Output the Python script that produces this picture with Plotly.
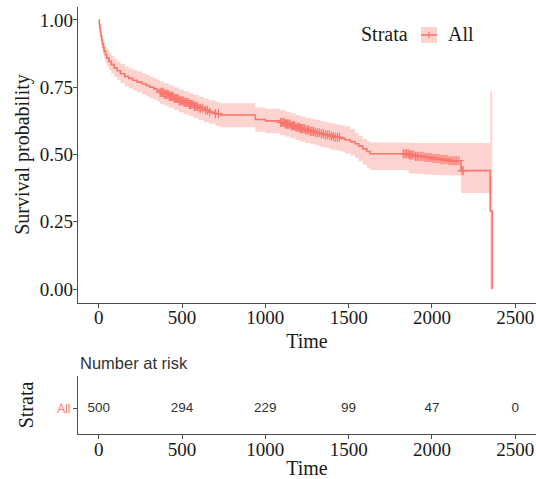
import numpy as np
import plotly.graph_objects as go

# ---------------- data ----------------
time = [0, 3, 6, 9, 13, 17, 21, 26, 32, 40, 48, 60, 75, 92, 110, 130, 156, 180, 204,
        230, 260, 285, 306, 330, 350, 367, 390, 420, 450, 480, 510, 540, 570, 600,
        630, 660, 700, 727, 940, 1000, 1088, 1120, 1150, 1180, 1210, 1240, 1270,
        1300, 1330, 1360, 1390, 1420, 1448, 1478, 1510, 1538, 1560, 1585, 1610,
        1629, 1860, 1900, 1950, 2000, 2050, 2100, 2175, 2350, 2362]
surv = [1.000, 0.985, 0.970, 0.955, 0.940, 0.926, 0.912, 0.898, 0.884, 0.870, 0.858,
        0.846, 0.834, 0.822, 0.811, 0.800, 0.790, 0.783, 0.776, 0.769, 0.762, 0.756,
        0.750, 0.744, 0.738, 0.731, 0.724, 0.716, 0.708, 0.700, 0.693, 0.686, 0.679,
        0.672, 0.665, 0.658, 0.652, 0.647, 0.630, 0.625, 0.619, 0.613, 0.607, 0.601,
        0.596, 0.591, 0.586, 0.581, 0.577, 0.573, 0.568, 0.564, 0.560, 0.555, 0.548,
        0.540, 0.531, 0.521, 0.511, 0.503, 0.498, 0.493, 0.489, 0.485, 0.481, 0.477,
        0.440, 0.290, 0.000]
upper = [1.000, 0.995, 0.985, 0.974, 0.962, 0.950, 0.938, 0.926, 0.913, 0.900, 0.889,
         0.878, 0.867, 0.856, 0.846, 0.836, 0.827, 0.820, 0.814, 0.808, 0.801, 0.795,
         0.790, 0.784, 0.778, 0.772, 0.765, 0.757, 0.750, 0.742, 0.735, 0.728, 0.721,
         0.715, 0.708, 0.702, 0.696, 0.690, 0.675, 0.670, 0.665, 0.659, 0.653, 0.647,
         0.642, 0.637, 0.632, 0.628, 0.624, 0.620, 0.616, 0.612, 0.609, 0.605, 0.595,
         0.580, 0.570, 0.558, 0.549, 0.545, 0.543, 0.543, 0.543, 0.543, 0.543, 0.543,
         0.543, 0.735, 0.735]
lower = [1.000, 0.975, 0.955, 0.937, 0.919, 0.902, 0.886, 0.870, 0.855, 0.840, 0.827,
         0.814, 0.801, 0.789, 0.777, 0.765, 0.754, 0.746, 0.738, 0.730, 0.722, 0.716,
         0.709, 0.703, 0.697, 0.689, 0.682, 0.674, 0.665, 0.657, 0.650, 0.643, 0.636,
         0.628, 0.621, 0.614, 0.607, 0.601, 0.585, 0.579, 0.572, 0.566, 0.560, 0.554,
         0.548, 0.543, 0.538, 0.533, 0.528, 0.524, 0.519, 0.515, 0.511, 0.505, 0.497,
         0.487, 0.476, 0.462, 0.450, 0.442, 0.430, 0.428, 0.426, 0.424, 0.423, 0.422,
         0.357, 0.000, 0.000]
censor_times = [368, 374, 380, 386, 392, 398, 404, 410, 416, 422, 428, 434, 440, 446,
                452, 458, 464, 470, 476, 482, 488, 494, 500, 506, 512, 518, 524, 530,
                537, 544, 551, 558, 566, 574, 582, 592, 602, 612, 625, 640, 652, 665,
                700, 718,
                1092, 1099, 1106, 1113, 1120, 1127, 1134, 1141, 1148, 1155, 1162, 1169,
                1176, 1183, 1190, 1197, 1204, 1211, 1218, 1226, 1234, 1243, 1252, 1261,
                1270, 1280, 1290, 1300, 1312, 1324, 1336, 1348, 1360, 1372, 1384, 1396,
                1408, 1420, 1432, 1444,
                1828, 1838, 1848, 1858, 1866, 1874, 1882, 1892, 1902, 1912, 1922, 1934,
                1946, 1958, 1970, 1982, 1994, 2006, 2018, 2030, 2042, 2054, 2066, 2078,
                2090, 2102, 2114, 2126, 2138, 2150, 2162, 2180, 2188]
strata = ["All"]
risk_times = [0, 500, 1000, 1500, 2000, 2500]
n_risk = [500, 294, 229, 99, 47, 0]
x_ticks = [0, 500, 1000, 1500, 2000, 2500]
y_ticks = [0.00, 0.25, 0.50, 0.75, 1.00]

# ---------------- styling ----------------
RED = "#F8766D"
FILL = "rgba(248,118,109,0.32)"
SERIF = "Liberation Serif, Times New Roman, serif"
SANS = "Liberation Sans, Arial, sans-serif"
AXC = "#4d4d4d"
TXT = "#1a1a1a"

W, H = 536.0, 479.0
def px(x):
    return x / W
def py(y):
    return (H - y) / H

idx = np.searchsorted(np.array(time), np.array(censor_times), side="right") - 1
censor_y = np.array(surv)[idx]

fig = go.Figure()
fig.add_trace(go.Scatter(x=time, y=lower, mode="lines", line=dict(width=0, shape="hv"),
                         showlegend=False, hoverinfo="skip"))
fig.add_trace(go.Scatter(x=time, y=upper, mode="lines", line=dict(width=0, shape="hv"),
                         fill="tonexty", fillcolor=FILL, showlegend=False, hoverinfo="skip"))
fig.add_trace(go.Scatter(x=time, y=surv, mode="lines", name=strata[0], showlegend=False,
                         line=dict(color=RED, width=1.6, shape="hv")))
fig.add_trace(go.Scatter(x=censor_times, y=censor_y, mode="markers", showlegend=False,
                         marker=dict(symbol="cross-thin", size=6.5, color=RED,
                                     line=dict(color=RED, width=1.2))))
fig.add_trace(go.Scatter(x=risk_times, y=strata * len(risk_times),
                         text=[str(v) for v in n_risk], mode="text",
                         textfont=dict(family=SANS, size=13.5, color="#333333"),
                         xaxis="x2", yaxis="y2", showlegend=False, hoverinfo="skip"))

common = dict(showline=True, linecolor=AXC, linewidth=1.2, ticks="outside", ticklen=4,
              tickcolor=AXC, showgrid=False, zeroline=False, automargin=False,
              tickfont=dict(family=SERIF, size=19, color=TXT))
title_font = dict(family=SERIF, size=20, color=TXT)

fig.update_layout(
    width=int(W), height=int(H), margin=dict(l=0, r=0, t=0, b=0),
    plot_bgcolor="white", paper_bgcolor="white", showlegend=False,
    xaxis=dict(domain=[px(78), 1.0], range=[-125, 2625], tickvals=x_ticks, anchor="y",
               ticklabelstandoff=-6,
               title=dict(text="Time", font=title_font, standoff=6), **common),
    yaxis=dict(domain=[py(302.5), py(6.5)], range=[-0.05, 1.05],
               tickvals=y_ticks, tickformat=".2f", anchor="x", ticklabelstandoff=-4,
               title=dict(text="Survival probability", font=title_font, standoff=4), **common),
    xaxis2=dict(domain=[px(78), 1.0], range=[-125, 2625], tickvals=x_ticks, anchor="y2",
                ticklabelstandoff=-6,
                title=dict(text="Time", font=title_font, standoff=6), **common),
    yaxis2=dict(domain=[py(434), py(376)], type="category",
                categoryarray=strata, range=[-0.44, 0.56], anchor="x2",
                showline=True, linecolor=AXC, linewidth=1.2, ticks="outside", ticklen=4,
                tickcolor=AXC, showgrid=False, zeroline=False, automargin=False,
                tickfont=dict(family=SANS, size=12, color=RED),
                title=dict(text="Strata", font=title_font, standoff=18)),
    annotations=[
        dict(text="Number at risk", x=px(78), y=py(362.5), xref="paper", yref="paper",
             xanchor="left", yanchor="middle", showarrow=False,
             font=dict(family=SANS, size=16.5, color="#333333")),
        # legend (ggplot style): title + key + label
        dict(text="Strata", x=px(359), y=py(34), xref="paper", yref="paper",
             xanchor="left", yanchor="middle", showarrow=False, font=title_font),
        dict(text=strata[0], x=px(446), y=py(34), xref="paper", yref="paper",
             xanchor="left", yanchor="middle", showarrow=False, font=title_font),
    ],
    shapes=[
        dict(type="rect", xref="paper", yref="paper", x0=px(421), x1=px(437),
             y0=py(43), y1=py(27), fillcolor=FILL, line=dict(width=0), layer="above"),
        dict(type="line", xref="paper", yref="paper", x0=px(421), x1=px(437),
             y0=py(35), y1=py(35), line=dict(color=RED, width=1.6), layer="above"),
        dict(type="line", xref="paper", yref="paper", x0=px(429), x1=px(429),
             y0=py(31.5), y1=py(38.5), line=dict(color=RED, width=1.2), layer="above"),
    ],
)

fig.write_html("out.html", config={"displayModeBar": False},
               post_script="document.body.style.margin='0px';"
                           "document.body.style.overflow='hidden';")
